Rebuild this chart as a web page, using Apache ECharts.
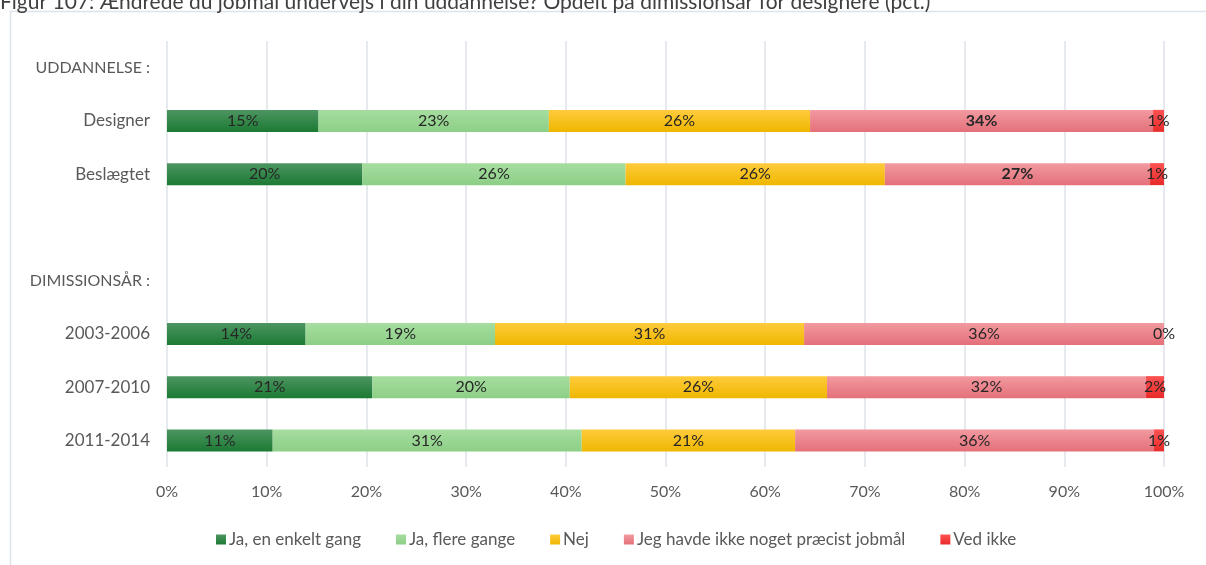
<!DOCTYPE html>
<html>
<head>
<meta charset="utf-8">
<script src="https://cdn.jsdelivr.net/npm/echarts@6/dist/echarts.min.js"></script>
<style>html,body{margin:0;padding:0;background:#fff}#c{width:1206px;height:565px}</style>
</head>
<body>
<div id="c"></div>
<script>
const title = 'Figur 107: Ændrede du jobmål undervejs i din uddannelse? Opdelt på dimissionsår for designere (pct.)';
const categories = ['UDDANNELSE :', 'Designer', 'Beslægtet', '', 'DIMISSIONSÅR :', '2003-2006', '2007-2010', '2011-2014'];
const seriesNames = ['Ja, en enkelt gang', 'Ja, flere gange', 'Nej', 'Jeg havde ikke noget præcist jobmål', 'Ved ikke'];
const jaEnkelt = [null, 15.2, 19.6, null, null, 13.9, 20.6, 10.6];
const jaFlere  = [null, 23.1, 26.4, null, null, 19.0, 19.8, 31.0];
const nej      = [null, 26.2, 26.0, null, null, 31.0, 25.8, 21.4];
const ingenMaal= [null, 34.4, 26.6, null, null, 36.1, 32.0, 36.0];
const vedIkke  = [null, 1.1, 1.4, null, null, 0.0, 1.8, 1.0];
const boldLabels = [[], [], [], ['Designer', 'Beslægtet'], []];
const xTicks = [0, 10, 20, 30, 40, 50, 60, 70, 80, 90, 100];

const FONT = 'Lato';
function grad(top, bottom) {
  return new echarts.graphic.LinearGradient(0, 0, 0, 1, [{offset: 0, color: top}, {offset: 1, color: bottom}]);
}
const colors = [
  grad('#4d9562', '#1c7a33'),
  grad('#a6dd9f', '#8dcf87'),
  grad('#ffcb3d', '#efb700'),
  grad('#f29aa0', '#e4707a'),
  grad('#ff5252', '#e82a2a')
];
const allData = [jaEnkelt, jaFlere, nej, ingenMaal, vedIkke];

const series = allData.map((arr, si) => ({
  name: seriesNames[si],
  type: 'bar',
  stack: 'total',
  barWidth: 22,
  itemStyle: {color: colors[si]},
  label: {
    show: true,
    position: 'inside',
    color: '#262626',
    fontFamily: FONT,
    fontSize: 16,
    formatter: p => p.value == null ? '' : Math.round(p.value) + '%'
  },
  data: arr.map((v, i) => {
    if (v == null) return '-';
    if (boldLabels[si].includes(categories[i])) return {value: v, label: {fontWeight: 'bold'}};
    return v;
  })
}));

const chart = echarts.init(document.getElementById('c'), null, {renderer: 'canvas'});
chart.setOption({
  animation: false,
  color: ['#1c7a33', '#8dcf87', '#efb700', '#e4707a', '#e82a2a'],
  textStyle: {fontFamily: FONT},
  graphic: [
    {type: 'rect', shape: {x: 10.5, y: 11.5, width: 1400, height: 800}, style: {fill: 'none', stroke: '#dde3ea', lineWidth: 1.5}, silent: true, z: -1},
    {type: 'text', x: 0, y: 13, style: {text: title, fill: '#404040', fontFamily: FONT, fontSize: 21, verticalAlign: 'bottom'}}
  ],
  grid: {left: 167, right: 42, top: 41, height: 426, containLabel: false},
  xAxis: {
    type: 'value', min: 0, max: 100, interval: 10,
    axisLine: {show: false}, axisTick: {show: false},
    splitLine: {show: true, lineStyle: {color: '#dee3ea', width: 1.5}},
    axisLabel: {formatter: v => xTicks.includes(v) ? v + '%' : '', color: '#595959', fontSize: 16, fontFamily: FONT, margin: 17}
  },
  yAxis: {
    type: 'category', inverse: true, data: categories,
    axisLine: {show: false}, axisTick: {show: false}, splitLine: {show: false},
    axisLabel: {color: '#595959', fontSize: 17, fontFamily: FONT, margin: 17,
      formatter: v => /:$/.test(v) ? '{u|' + v + '}' : v,
      rich: {u: {fontSize: 16, color: '#595959', fontFamily: FONT}}}
  },
  legend: {
    bottom: 12, left: 211, icon: 'rect', itemWidth: 10, itemHeight: 10, itemGap: 35,
    textStyle: {color: '#595959', fontSize: 17, fontFamily: FONT, padding: [0, 0, 0, -2]},
    data: seriesNames
  },
  series: series
});
</script>
</body>
</html>
